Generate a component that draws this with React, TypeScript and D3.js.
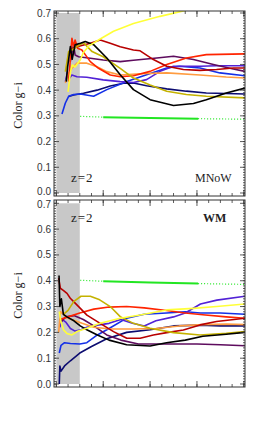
// Colour evolution g-i of model galaxies, two feedback runs.

import * as d3 from "d3";

type Pt = [number, number];

const yTicks = [0, 0.1, 0.2, 0.3, 0.4, 0.5, 0.6, 0.7];
const yTickLabels = ["0.0", "0.1", "0.2", "0.3", "0.4", "0.5", "0.6", "0.7"];
const yMinor = d3.range(0, 71).map((i) => i / 100);
const xMajor = [0, 4, 8, 12, 16];
const xMinor = d3.range(0, 17);
const shadeEnd = 2; // z=2

// ---- MNoW panel ----
const mnowNavy: Pt[] = [[1.05,0.375],[1.47,0.381],[2.32,0.388],[3.47,0.4],[4.6,0.416],[5.73,0.427],[6.58,0.428],[7.7,0.417],[9.42,0.405],[11.1,0.396],[12.8,0.389],[16.1,0.385]];
const mnowBlue: Pt[] = [[0.48,0.307],[0.77,0.35],[1.05,0.376],[1.48,0.383],[2.04,0.385],[3.18,0.376],[4.31,0.402],[6.01,0.434],[7.7,0.46],[9.42,0.486],[10.5,0.493],[12.26,0.486],[13.96,0.467],[16.1,0.456]];
const mnowViolet: Pt[] = [[0.77,0.433],[0.95,0.47],[1.1,0.445],[1.33,0.459],[1.76,0.452],[2.6,0.45],[4.0,0.44],[5.45,0.433],[6.58,0.43],[7.7,0.441],[8.85,0.473],[10,0.493],[12.26,0.493],[13.67,0.495],[16.1,0.495]];
const mnowPurple: Pt[] = [[1.19,0.511],[1.47,0.576],[1.6,0.537],[1.9,0.53],[2.9,0.524],[4.0,0.517],[5.45,0.511],[6.58,0.516],[8.57,0.525],[10,0.532],[11.7,0.519],[13.4,0.5],[15.1,0.482],[16.1,0.473]];
const mnowOrange: Pt[] = [[0.77,0.428],[1.05,0.466],[1.33,0.485],[1.76,0.505],[2.6,0.505],[3.47,0.491],[4.31,0.472],[5.45,0.459],[7.15,0.464],[9.42,0.467],[12.26,0.459],[14.5,0.451],[16.1,0.447]];
const mnowRed: Pt[] = [[1.05,0.433],[1.19,0.517],[1.33,0.602],[1.47,0.569],[1.6,0.595],[1.82,0.563],[2.18,0.556],[2.9,0.511],[3.6,0.485],[4.6,0.459],[5.45,0.452],[6.58,0.456],[8.0,0.473],[9.42,0.5],[11.1,0.525],[12.8,0.538],[16.1,0.541]];
const mnowDarkRed: Pt[] = [[1.3,0.56],[1.76,0.569],[2.9,0.582],[3.75,0.595],[4.6,0.582],[5.45,0.569],[6.58,0.556],[7.15,0.553],[8.28,0.519],[9.42,0.493],[10.84,0.48],[12.26,0.477],[13.67,0.48],[15.1,0.486],[16.1,0.486]];
const mnowOlive: Pt[] = [[0.77,0.472],[1.05,0.55],[1.33,0.556],[1.76,0.569],[2.32,0.585],[3.05,0.55],[4.0,0.53],[5.45,0.485],[6.58,0.447],[8.0,0.42],[9.42,0.396],[11.1,0.383],[12.8,0.376],[16.1,0.37]];
const mnowBlack: Pt[] = [[0.85,0.433],[0.96,0.49],[1.2,0.57],[1.35,0.52],[1.6,0.576],[2.05,0.582],[2.47,0.589],[3.18,0.577],[4.31,0.525],[5.45,0.46],[6.58,0.402],[8.0,0.363],[10.0,0.34],[11.7,0.348],[12.8,0.363],[14.5,0.389],[16.1,0.408]];
const mnowYellow: Pt[] = [[1.0,0.393],[1.2,0.47],[1.36,0.498],[1.6,0.49],[2.05,0.518],[2.3,0.545],[2.75,0.571],[3.74,0.599],[4.88,0.629],[6.58,0.659],[8.85,0.687],[11.12,0.711],[13,0.73]];
const mnowGreenLeft: Pt[] = [[2.04,0.298],[4.0,0.295]];
const mnowGreen: Pt[] = [[4.0,0.295],[8.0,0.292],[12.1,0.289]];
const mnowGreenRight: Pt[] = [[12.1,0.289],[16.1,0.287]];

// ---- WM panel ----
const wmNavy: Pt[] = [[0.25,0.0],[0.3,0.07],[0.4,0.05],[0.7,0.07],[1.2,0.09],[2.0,0.12],[3.0,0.145],[4.3,0.175],[6.0,0.2],[8.0,0.21],[10,0.225],[12.3,0.228],[14,0.225],[16.1,0.225]];
const wmBlue: Pt[] = [[0.25,0.12],[0.4,0.15],[0.7,0.16],[1.2,0.157],[2.0,0.155],[2.6,0.16],[3.5,0.19],[4.5,0.215],[6.0,0.255],[7.5,0.27],[9.4,0.275],[11,0.28],[12.3,0.275],[14,0.275],[16.1,0.27]];
const wmViolet: Pt[] = [[0.3,0.22],[0.5,0.25],[0.8,0.24],[1.2,0.215],[1.6,0.205],[2.1,0.21],[2.6,0.22],[3.5,0.228],[4.5,0.235],[5.5,0.25],[6.5,0.235],[7.5,0.225],[8.5,0.245],[10,0.26],[11,0.275],[12.3,0.31],[13.7,0.325],[16.1,0.34]];
const wmPurple: Pt[] = [[0.4,0.24],[0.8,0.26],[1.5,0.265],[2.3,0.25],[3.2,0.225],[4.3,0.19],[5.5,0.17],[7,0.155],[9,0.155],[12,0.155],[14,0.152],[16.1,0.148]];
const wmOrange: Pt[] = [[0.2,0.2],[0.35,0.28],[0.6,0.27],[1.0,0.255],[1.6,0.245],[2.2,0.235],[3.2,0.22],[4.6,0.213],[6.5,0.213],[8.5,0.215],[10.5,0.225],[12.5,0.23],[14.5,0.232],[16.1,0.23]];
const wmRed: Pt[] = [[0.3,0.25],[1.0,0.26],[2.0,0.275],[3.2,0.29],[4.5,0.298],[6.0,0.3],[7.5,0.295],[9.4,0.285],[11,0.275],[12.5,0.268],[14.5,0.26],[16.1,0.255]];
const wmDarkRed: Pt[] = [[0.2,0.41],[0.34,0.371],[0.62,0.362],[0.91,0.351],[1.19,0.332],[1.48,0.319],[1.9,0.3],[2.61,0.267],[3.74,0.235],[4.88,0.203],[6.01,0.177],[7.15,0.177],[8.28,0.19],[9.42,0.199],[10.84,0.209],[12.26,0.229],[13.67,0.242],[16.1,0.255]];
const wmOlive: Pt[] = [[0.6,0.27],[1.0,0.285],[1.5,0.32],[2.1,0.34],[2.9,0.34],[3.7,0.326],[4.6,0.3],[5.45,0.261],[6.58,0.235],[8.0,0.216],[10,0.199],[12.26,0.19],[14.5,0.196],[16.1,0.203]];
const wmBlack: Pt[] = [[0.23,0.42],[0.3,0.3],[0.43,0.33],[0.6,0.27],[0.9,0.26],[1.5,0.245],[2.04,0.225],[2.6,0.21],[3.5,0.19],[4.5,0.17],[6.0,0.152],[8.0,0.147],[9.4,0.16],[11.0,0.17],[12.5,0.185],[14.5,0.193],[16.1,0.2]];
const wmYellow: Pt[] = [[0.25,0.28],[0.4,0.24],[0.62,0.209],[0.9,0.196],[1.33,0.19],[1.76,0.203],[2.6,0.216],[3.74,0.235],[5.45,0.255],[7.15,0.267],[9.42,0.287],[11.7,0.293],[13.67,0.3],[16.1,0.31]];
const wmGreenLeft: Pt[] = [[2.04,0.402],[4.0,0.398]];
const wmGreen: Pt[] = [[4.0,0.398],[8.0,0.393],[12.1,0.389]];
const wmGreenRight: Pt[] = [[12.1,0.389],[16.1,0.386]];

const colors: Record<string, string> = {
  navy: "#0c0c70",
  blue: "#1430e8",
  violet: "#5222d6",
  purple: "#5e0c5e",
  orange: "#ff9c40",
  red: "#ff2400",
  darkred: "#b80000",
  olive: "#c4b200",
  black: "#000000",
  yellow: "#ffff38",
  green: "#22e622",
};

const mnowSeries: [string, Pt[]][] = [
  ["navy", mnowNavy], ["blue", mnowBlue], ["violet", mnowViolet], ["purple", mnowPurple],
  ["orange", mnowOrange], ["red", mnowRed], ["darkred", mnowDarkRed], ["olive", mnowOlive],
  ["black", mnowBlack], ["yellow", mnowYellow],
];
const wmSeries: [string, Pt[]][] = [
  ["navy", wmNavy], ["blue", wmBlue], ["violet", wmViolet], ["purple", wmPurple],
  ["orange", wmOrange], ["red", wmRed], ["darkred", wmDarkRed], ["olive", wmOlive],
  ["black", wmBlack], ["yellow", wmYellow],
];

const left = 54;
const right = 245;
const x = d3.scaleLinear([-0.2, 16.1], [left, right]);

interface PanelProps {
  id: string;
  top: number;
  bottom: number;
  yDomain: [number, number];
  series: [string, Pt[]][];
  green: [Pt[], Pt[], Pt[]];
  label: string;
  labelBold?: boolean;
  labelX: number;
  textY: number;
  nudge: [number, number]; // shift of the 0.0 and 0.7 labels
}

function Panel(p: PanelProps) {
  const y = d3.scaleLinear(p.yDomain, [p.bottom, p.top]);
  const line = d3.line<Pt>((d) => x(d[0]), (d) => y(d[1]));
  const mid = (p.top + p.bottom) / 2;
  return (
    <g>
      <defs>
        <clipPath id={p.id}>
          <rect x={left} y={p.top} width={right - left} height={p.bottom - p.top} />
        </clipPath>
      </defs>
      <rect
        x={x(0)}
        y={y(0.7)}
        width={x(shadeEnd) - x(0)}
        height={y(0) - y(0.7)}
        fill="#c8c8c8"
      />
      <g clipPath={`url(#${p.id})`} fill="none" strokeLinejoin="round">
        {p.series.map(([name, pts]) => (
          <path key={name} d={line(pts) || ""} stroke={colors[name]} strokeWidth={1.6} />
        ))}
        <path d={line(p.green[0]) || ""} stroke={colors.green} strokeWidth={1.2} strokeDasharray="1 2" />
        <path d={line(p.green[1]) || ""} stroke={colors.green} strokeWidth={2} />
        <path d={line(p.green[2]) || ""} stroke={colors.green} strokeWidth={1.2} strokeDasharray="1 2" />
      </g>
      <rect x={left} y={p.top} width={right - left} height={p.bottom - p.top} fill="none" stroke="#333" strokeWidth={1} />
      <g stroke="#333" strokeWidth={0.8}>
        {yMinor.map((v) => (
          <g key={v}>
            <line x1={left} x2={left + 2} y1={y(v)} y2={y(v)} />
            <line x1={right} x2={right - 2} y1={y(v)} y2={y(v)} />
          </g>
        ))}
        {yTicks.map((v) => (
          <g key={v}>
            <line x1={left} x2={left + 5} y1={y(v)} y2={y(v)} />
            <line x1={right} x2={right - 5} y1={y(v)} y2={y(v)} />
          </g>
        ))}
        {xMinor.map((u) => (
          <g key={u}>
            <line x1={x(u)} x2={x(u)} y1={p.bottom} y2={p.bottom - 3} />
            <line x1={x(u)} x2={x(u)} y1={p.top} y2={p.top + 3} />
          </g>
        ))}
        {xMajor.map((u) => (
          <g key={u}>
            <line x1={x(u)} x2={x(u)} y1={p.bottom} y2={p.bottom - 6} />
            <line x1={x(u)} x2={x(u)} y1={p.top} y2={p.top + 6} />
          </g>
        ))}
      </g>
      <g fontFamily="'Liberation Sans', Arial, sans-serif" fontSize={10} fill="#333" textAnchor="end">
        {yTicks.map((v, i) => {
          const shift = i === 0 ? p.nudge[0] : i === yTicks.length - 1 ? p.nudge[1] : 0;
          return (
            <text key={v} x={left - 3} y={y(v) + shift} dy="0.35em">
              {yTickLabels[i]}
            </text>
          );
        })}
      </g>
      <text
        transform={`translate(22, ${mid + 2}) rotate(-90)`}
        textAnchor="middle"
        fontFamily="'Liberation Serif', 'Times New Roman', serif"
        fontSize={12}
        fill="#222"
      >
        Color g−i
      </text>
      <text
        x={71}
        y={p.textY}
        fontFamily="'Liberation Serif', serif"
        fontSize={13}
        letterSpacing={1}
        fill="#222"
      >
        z=2
      </text>
      <text
        x={p.labelX}
        y={p.textY}
        fontFamily="'Liberation Serif', serif"
        fontSize={12}
        fontWeight={p.labelBold ? "bold" : "normal"}
        fill="#222"
      >
        {p.label}
      </text>
    </g>
  );
}

export default function App() {
  return (
    <svg
      width={258}
      height={422}
      style={{ position: "absolute", left: 0, top: 0, background: "#fff" }}
    >
      <Panel
        id="clipTop"
        top={11}
        bottom={196}
        yDomain={[-0.0117, 0.7078]}
        series={mnowSeries}
        green={[mnowGreenLeft, mnowGreen, mnowGreenRight]}
        label="MNoW"
        labelX={195}
        textY={182}
        nudge={[-1, 0]}
      />
      <Panel
        id="clipBottom"
        top={200}
        bottom={387}
        yDomain={[-0.0116, 0.7128]}
        series={wmSeries}
        green={[wmGreenLeft, wmGreen, wmGreenRight]}
        label="WM"
        labelBold
        labelX={203}
        textY={222}
        nudge={[0, 1]}
      />
    </svg>
  );
}
